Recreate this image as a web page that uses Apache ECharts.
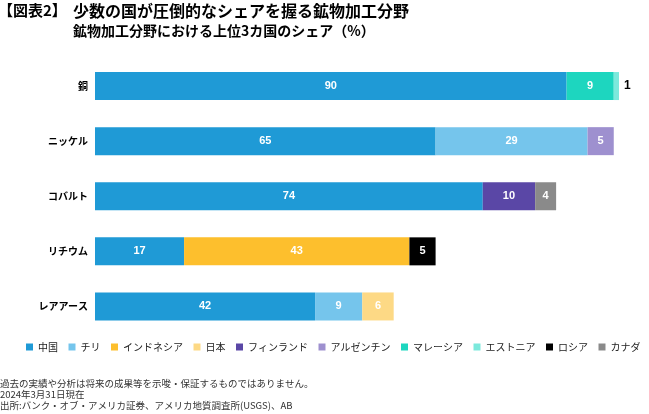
<!DOCTYPE html>
<html><head><meta charset="utf-8">
<script src="https://cdn.jsdelivr.net/npm/echarts@6/dist/echarts.min.js"></script>
<style>html,body{margin:0;padding:0;background:#fff}#c{width:649px;height:414px}</style>
</head><body><div id="c"></div>
<script>
const categories = ['銅', 'ニッケル', 'コバルト', 'リチウム', 'レアアース'];
const countries = ['中国', 'チリ', 'インドネシア', '日本', 'フィンランド', 'アルゼンチン', 'マレーシア', 'エストニア', 'ロシア', 'カナダ'];
const china     = [90, 65, 74, 17, 42];
const chile     = [null, 29, null, null, 9];
const indonesia = [null, null, null, 43, null];
const japan     = [null, null, null, null, 6];
const finland   = [null, null, 10, null, null];
const argentina = [null, 5, null, null, null];
const malaysia  = [9, null, null, null, null];
const estonia   = [1, null, null, null, null];
const russia    = [null, null, null, 5, null];
const canada    = [null, null, 4, null, null];
const seriesValues = [china, chile, indonesia, japan, finland, argentina, malaysia, estonia, russia, canada];
const colors = ['#1f9ad6', '#75c5ec', '#fdbf2d', '#fdd985', '#5a47a6', '#9e90cf', '#1dd6bf', '#7ce9dc', '#000000', '#8a8a8a'];
const xTicks = [0, 100];

const JP = '"Noto Sans CJK JP", sans-serif';
const chart = echarts.init(document.getElementById('c'), null, {renderer: 'canvas'});
const series = countries.map((name, i) => {
  const outside = name === 'エストニア';
  return {
    name: name,
    type: 'bar',
    stack: 'total',
    barWidth: 28,
    data: seriesValues[i],
    itemStyle: {color: colors[i]},
    label: {
      show: true,
      position: outside ? 'right' : 'inside',
      distance: 5,
      color: outside ? '#000' : '#fff',
      fontWeight: 'bold',
      fontSize: outside ? 12 : 11,
      fontFamily: 'Arial, "Liberation Sans", sans-serif'
    }
  };
});
chart.setOption({
  animation: false,
  color: colors,
  title: [
    {text: '【図表2】', left: -2, top: 3, padding: 0, textStyle: {fontSize: 15, fontWeight: 'bold', color: '#000', fontFamily: JP}},
    {text: '少数の国が圧倒的なシェアを握る鉱物加工分野', left: 73, top: 3, padding: 0, textStyle: {fontSize: 16, fontWeight: 'bold', color: '#000', fontFamily: JP}},
    {text: '鉱物加工分野における上位3カ国のシェア（%）', left: 73, top: 24, padding: 0, textStyle: {fontSize: 14, fontWeight: 'bold', color: '#000', fontFamily: JP}}
  ],
  graphic: [
    {type: 'text', left: 0, top: 379, style: {text: '過去の実績や分析は将来の成果等を示唆・保証するものではありません。', fontSize: 9.5, fill: '#333', fontFamily: JP}},
    {type: 'text', left: 0, top: 390, style: {text: '2024年3月31日現在', fontSize: 9.5, fill: '#333', fontFamily: JP}},
    {type: 'text', left: 0, top: 401, style: {text: '出所:バンク・オブ・アメリカ証券、アメリカ地質調査所(USGS)、AB', fontSize: 9.5, fill: '#333', fontFamily: JP}}
  ],
  legend: {
    left: 26, top: 342, width: 640, padding: 0,
    itemWidth: 7, itemHeight: 7, itemGap: 10.5,
    icon: 'rect',
    textStyle: {fontSize: 10, color: '#222', fontFamily: JP},
    data: countries
  },
  grid: {left: 95, right: 30, top: 58.5, bottom: 80, containLabel: false},
  xAxis: {
    type: 'value', min: xTicks[0], max: xTicks[1], show: false
  },
  yAxis: {
    type: 'category', data: categories, inverse: true,
    axisLine: {show: false}, axisTick: {show: false},
    axisLabel: {color: '#000', fontWeight: 'bold', fontSize: 10, fontFamily: JP, margin: 7}
  },
  series: series
});
</script></body></html>
